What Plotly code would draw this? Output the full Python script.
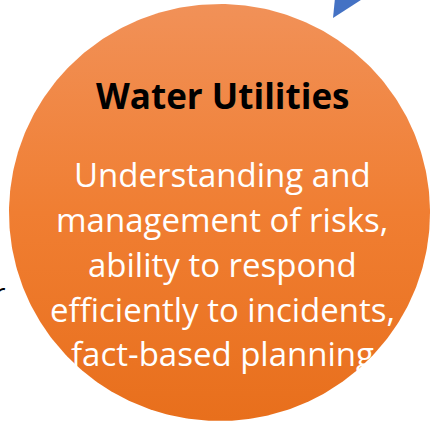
import numpy as np
import plotly.graph_objects as go

title = "Water Utilities"
body_lines = [
    "Understanding and",
    "management of risks,",
    "ability to respond",
    "efficiently to incidents,",
    "fact-based planning",
]
side_text = "r"

W, H = 431, 423
cx, cy, rx, ry = 219.5, 212.5, 210.5, 208.5

t = np.linspace(0, 2 * np.pi, 400)
fig = go.Figure()
fig.add_trace(go.Scatter(
    x=cx + rx * np.cos(t), y=cy + ry * np.sin(t),
    mode="lines", line=dict(width=0, color="rgba(0,0,0,0)"),
    fill="toself",
    fillgradient=dict(type="vertical", start=cy + ry, stop=cy - ry,
                      colorscale=[[0, "#E86F1C"], [0.5, "#F07E32"], [1, "#F19158"]]),
    hoverinfo="skip", showlegend=False,
))
# blue triangle fragment at top-right
fig.add_trace(go.Scatter(
    x=[333, 335, 364, 333], y=[18, -2, -2, 18],
    mode="lines", line=dict(width=0), fill="toself", fillcolor="#4472C4",
    hoverinfo="skip", showlegend=False,
))

font = "Open Sans"
fig.add_annotation(x=222, y=95, text="<b>" + title + "</b>", showarrow=False,
                   font=dict(family=font, size=35, color="#000000"),
                   xanchor="center", yanchor="middle")
ys = [174, 219, 264, 309, 353]
for yv, line in zip(ys, body_lines):
    fig.add_annotation(x=222, y=yv, text=line, showarrow=False,
                       font=dict(family=font, size=33, color="#FFFFFF"),
                       xanchor="center", yanchor="middle")
fig.add_annotation(x=8, y=292, text=side_text, showarrow=False,
                   font=dict(family=font, size=28, color="#000000"),
                   xanchor="right", yanchor="middle")

fig.update_layout(
    width=W, height=H, margin=dict(l=0, r=0, t=0, b=0),
    paper_bgcolor="white", plot_bgcolor="white",
    xaxis=dict(range=[0, W], visible=False, fixedrange=True),
    yaxis=dict(range=[H, 0], visible=False, fixedrange=True),
)
fig.write_html("out.html", config={"displayModeBar": False},
               post_script="document.body.style.margin='0';")
